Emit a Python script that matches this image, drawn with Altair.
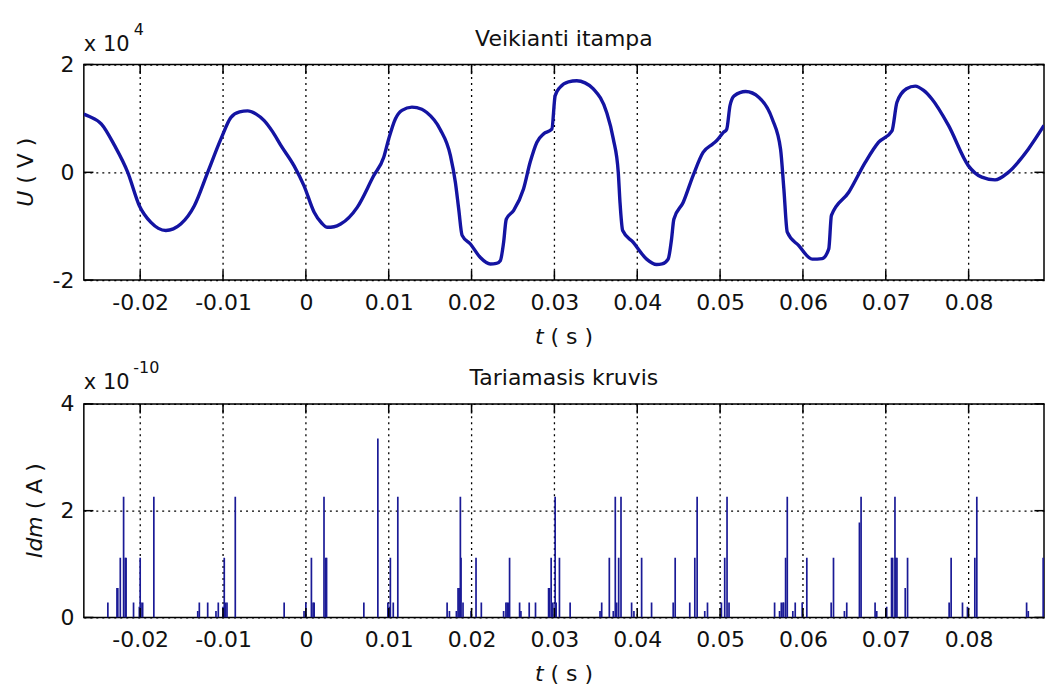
import altair as alt
import pandas as pd

FONT = "DejaVu Sans"
TXT = "#111111"
W, H1, H2 = 962, 216, 214
XDOM = [-0.0268, 0.0891]

# ---- tick values ----
x_ticks = [-0.02, -0.01, 0, 0.01, 0.02, 0.03, 0.04, 0.05, 0.06, 0.07, 0.08]
u_ticks = [-2, 0, 2]
i_ticks = [0, 2, 4]

# ---- top panel: U (x 1e4 V) ----
t_u = [-0.0268, -0.0262, -0.0247, -0.0231, -0.0215, -0.0201, -0.0187, -0.0178,
       -0.0169, -0.0160, -0.0151, -0.01346, -0.01185, -0.01025, -0.00904, -0.0080,
       -0.00703, -0.0060, -0.00503, -0.0040, -0.00302, -0.00142, -0.00022, 0.0010,
       0.0019, 0.0026, 0.0034, 0.0042, 0.0062, 0.0082, 0.0094, 0.0100,
       0.0108, 0.0116, 0.0128, 0.0140, 0.0146, 0.0162, 0.01745, 0.01805,
       0.01845, 0.01886, 0.01986, 0.02106, 0.02226, 0.0230, 0.02347, 0.02387,
       0.02419, 0.02507, 0.02627, 0.02708, 0.02789, 0.02868, 0.02969, 0.03009,
       0.03069, 0.0317, 0.0327, 0.0337, 0.0347, 0.03631, 0.03711, 0.03771,
       0.03792, 0.03824, 0.03952, 0.04113, 0.04234, 0.0430, 0.04373, 0.04414,
       0.04442, 0.04554, 0.04674, 0.04795, 0.04915, 0.0496, 0.0504, 0.0508,
       0.0512, 0.0517, 0.05309, 0.0547, 0.0563, 0.0573, 0.0577, 0.05811,
       0.0595, 0.06112, 0.06232, 0.06312, 0.06344, 0.06553, 0.06754, 0.06914,
       0.07075, 0.07135, 0.0725, 0.07356, 0.07457, 0.07557, 0.07757, 0.07998,
       0.08159, 0.08319, 0.08479, 0.08720, 0.0891]
u_val = [1.08, 1.04, 0.90, 0.50, 0.00, -0.62, -0.93, -1.04,
         -1.08, -1.05, -0.96, -0.62, 0.00, 0.62, 1.02, 1.12,
         1.14, 1.08, 0.96, 0.75, 0.50, 0.12, -0.25, -0.74,
         -0.94, -1.02, -1.01, -0.96, -0.65, -0.06, 0.28, 0.62,
         0.99, 1.15, 1.21, 1.17, 1.11, 0.80, 0.31, -0.19,
         -0.68, -1.17, -1.33, -1.58, -1.70, -1.69, -1.64, -1.30,
         -0.87, -0.71, -0.31, 0.19, 0.56, 0.71, 0.80, 1.42,
         1.58, 1.68, 1.70, 1.66, 1.55, 1.11, 0.62, 0.00,
         -0.56, -1.08, -1.30, -1.61, -1.71, -1.70, -1.61, -1.24,
         -0.87, -0.56, -0.06, 0.37, 0.53, 0.59, 0.74, 0.80,
         1.24, 1.42, 1.50, 1.39, 0.99, 0.43, -0.31, -1.11,
         -1.36, -1.61, -1.60, -1.42, -0.80, -0.37, 0.19, 0.56,
         0.77, 1.30, 1.55, 1.60, 1.52, 1.36, 0.87, 0.12,
         -0.09, -0.14, 0.00, 0.43, 0.87]

# ---- bottom panel: Idm (x 1e-10 A) spikes ----
t_i = [-0.0239, -0.0228, -0.0227, -0.0224, -0.0220, -0.0218, -0.0217, -0.0208,
       -0.0201, -0.0200, -0.0199, -0.0197, -0.01835, -0.01305, -0.01286, -0.01185,
       -0.01085, -0.01057, -0.0100, -0.00985, -0.0097, -0.00952, -0.00852, -0.00262,
       -0.00022, 0.0000, 0.00067, 0.00087, 0.0010, 0.00219, 0.0024, 0.0025,
       0.0070, 0.00869, 0.0099, 0.0101, 0.0102, 0.01055, 0.0111, 0.01705,
       0.01733, 0.01817, 0.01837, 0.0185, 0.01865, 0.01873, 0.01897, 0.01994,
       0.02054, 0.02118, 0.02387, 0.02415, 0.0243, 0.02447, 0.02459, 0.02580,
       0.02596, 0.02696, 0.02772, 0.0293, 0.0294, 0.02961, 0.02981, 0.03009,
       0.03021, 0.03061, 0.0319, 0.03551, 0.03571, 0.03663, 0.03711, 0.03735,
       0.03752, 0.03776, 0.03804, 0.03932, 0.0396, 0.04053, 0.04173, 0.04434,
       0.04458, 0.04634, 0.04695, 0.04723, 0.04815, 0.04848, 0.05016, 0.05056,
       0.05084, 0.05108, 0.05658, 0.05718, 0.05739, 0.0576, 0.05767, 0.05791,
       0.05811, 0.05878, 0.05907, 0.05991, 0.06047, 0.06341, 0.06369, 0.06501,
       0.06529, 0.06682, 0.06702, 0.06871, 0.06891, 0.07011, 0.0707, 0.07083,
       0.07111, 0.0712, 0.07135, 0.07235, 0.07263, 0.07765, 0.07789, 0.07926,
       0.07986, 0.08075, 0.08099, 0.0870, 0.0872, 0.0890, 0.0891]
i_val = [0.28, 0.55, 0.55, 1.12, 2.26, 1.12, 1.12, 0.28,
         0.20, 1.12, 0.28, 0.28, 2.26, 0.12, 0.28, 0.28,
         0.12, 0.28, 0.20, 1.12, 0.28, 0.28, 2.26, 0.28,
         0.12, 0.28, 1.12, 0.28, 0.28, 2.26, 1.12, 1.12,
         0.28, 3.35, 0.28, 0.20, 1.12, 0.28, 2.26, 0.28,
         0.12, 0.12, 0.55, 0.55, 2.26, 1.12, 0.28, 0.12,
         1.12, 0.28, 0.12, 0.28, 0.28, 0.28, 1.12, 0.28,
         0.12, 0.28, 0.28, 0.55, 0.55, 1.12, 0.28, 2.26,
         0.28, 1.12, 0.28, 0.12, 0.28, 1.12, 0.12, 2.26,
         0.28, 1.12, 2.26, 0.28, 0.12, 1.12, 0.28, 0.28,
         1.12, 0.28, 1.12, 2.26, 0.12, 0.28, 0.28, 1.12,
         2.26, 0.28, 0.28, 0.12, 0.28, 0.28, 0.28, 1.12,
         2.26, 0.12, 0.28, 0.28, 1.12, 0.28, 1.12, 0.12,
         0.28, 1.78, 2.26, 0.28, 0.12, 0.20, 1.12, 1.12,
         2.26, 1.12, 1.12, 0.55, 1.12, 0.28, 1.12, 0.28,
         0.20, 1.12, 2.26, 0.28, 0.12, 1.12, 0.28]

df_u = pd.DataFrame({"t": t_u, "U": u_val})
df_i = pd.DataFrame({"t": t_i, "I": i_val, "z": [0.0] * len(t_i)})
df_xt = pd.DataFrame({"t": x_ticks})
one = pd.DataFrame({"k": [0]})

LINE_COL = "#1414a2"
SPIKE_COL = "#1a1a96"
TICK_LEN = 9.6

label_expr = "datum.value < 0 ? '-' + format(-datum.value, '~g') : format(datum.value, '~g')"

X_AXIS = alt.Axis(values=x_ticks, labelExpr=label_expr, title=None, ticks=False, tickSize=0,
                  domain=False, grid=True, gridColor="black", gridDash=[2, 4], gridWidth=1.3,
                  labelFont=FONT, labelFontSize=22, labelColor=TXT, labelPadding=12.5,
                  labelFlush=False, labelOverlap=False)


def y_axis(vals):
    return alt.Axis(values=vals, labelExpr=label_expr, title=None, ticks=False, tickSize=0,
                    domain=False, grid=True, gridColor="black", gridDash=[2, 4], gridWidth=1.3,
                    labelFont=FONT, labelFontSize=22, labelColor=TXT, labelPadding=10,
                    labelFlush=False, labelOverlap=False)


X_SCALE = alt.Scale(domain=XDOM, nice=False, zero=False)


def txt(s, x, y, size=22, style="normal", angle=0, align="left"):
    return alt.Chart(one).mark_text(text=s, font=FONT, fontSize=size, fontStyle=style,
                                    angle=angle, align=align, baseline="alphabetic",
                                    color=TXT).encode(x=alt.value(x), y=alt.value(y))


def frame_ticks(yvals, yfield, yscale, yax, H):
    df_yt = pd.DataFrame({yfield: yvals})
    base_x = alt.Chart(df_xt).mark_rule(color="black", strokeWidth=1.5)
    base_y = alt.Chart(df_yt).mark_rule(color="black", strokeWidth=1.5)
    xenc = alt.X("t:Q", scale=X_SCALE, axis=X_AXIS)
    yenc = alt.Y(f"{yfield}:Q", scale=yscale, axis=yax)
    return [
        base_x.encode(x=xenc, y=alt.value(0), y2=alt.value(TICK_LEN)),
        base_x.encode(x=xenc, y=alt.value(H - TICK_LEN), y2=alt.value(H)),
        base_y.encode(y=yenc, x=alt.value(0), x2=alt.value(TICK_LEN)),
        base_y.encode(y=yenc, x=alt.value(W - TICK_LEN), x2=alt.value(W)),
    ]


# invisible anchor fixing the top-left corner of the whole picture
anchor = alt.Chart(one).mark_rule(opacity=0, strokeWidth=0).encode(
    x=alt.value(-83), x2=alt.value(-82), y=alt.value(-63), y2=alt.value(-62))

U_SCALE = alt.Scale(domain=[-2, 2], nice=False, zero=False)
U_AXIS = y_axis(u_ticks)
I_SCALE = alt.Scale(domain=[0, 4], nice=False, zero=False)
I_AXIS = y_axis(i_ticks)

line = alt.Chart(df_u).mark_line(color=LINE_COL, strokeWidth=3.4, clip=True,
                                 interpolate="monotone").encode(
    x=alt.X("t:Q", scale=X_SCALE, axis=X_AXIS),
    y=alt.Y("U:Q", scale=U_SCALE, axis=U_AXIS),
)

top = alt.layer(
    line,
    *frame_ticks(u_ticks, "U", U_SCALE, U_AXIS, H1),
    anchor,
    txt("Veikianti itampa", W / 2, -19, align="center"),
    txt("x 10", 0, -14, size=21),
    txt("4", 50, -30, size=16),
    txt("U", -51, 142.6, style="italic", angle=270),
    txt("( V )", -51, 119.5, angle=270),
    txt("t", 452, H1 + 63.5, style="italic"),
    txt("( s )", 467.5, H1 + 63.5),
).properties(width=W, height=H1)

spikes = alt.Chart(df_i).mark_rule(color=SPIKE_COL, strokeWidth=1.7, clip=True).encode(
    x=alt.X("t:Q", scale=X_SCALE, axis=X_AXIS),
    y=alt.Y("z:Q", scale=I_SCALE, axis=I_AXIS),
    y2="I:Q",
)

bottom = alt.layer(
    spikes,
    *frame_ticks(i_ticks, "z", I_SCALE, I_AXIS, H2),
    txt("Tariamasis kruvis", W / 2, -19, align="center"),
    txt("x 10", 0, -14.5, size=21),
    txt("-10", 49.5, -31, size=16),
    txt("Idm", -41.5, 154.5, style="italic", angle=270),
    txt("( A )", -41.5, 105.6, angle=270),
    txt("t", 452, H2 + 63.5, style="italic"),
    txt("( s )", 467.5, H2 + 63.5),
).properties(width=W, height=H2)

chart = alt.vconcat(top, bottom, spacing=124, bounds="flush").properties(
    padding=0, background="white"
).configure_view(stroke="black", strokeWidth=1.5)

chart.save("out.html", embed_options={"renderer": "svg", "actions": False})
